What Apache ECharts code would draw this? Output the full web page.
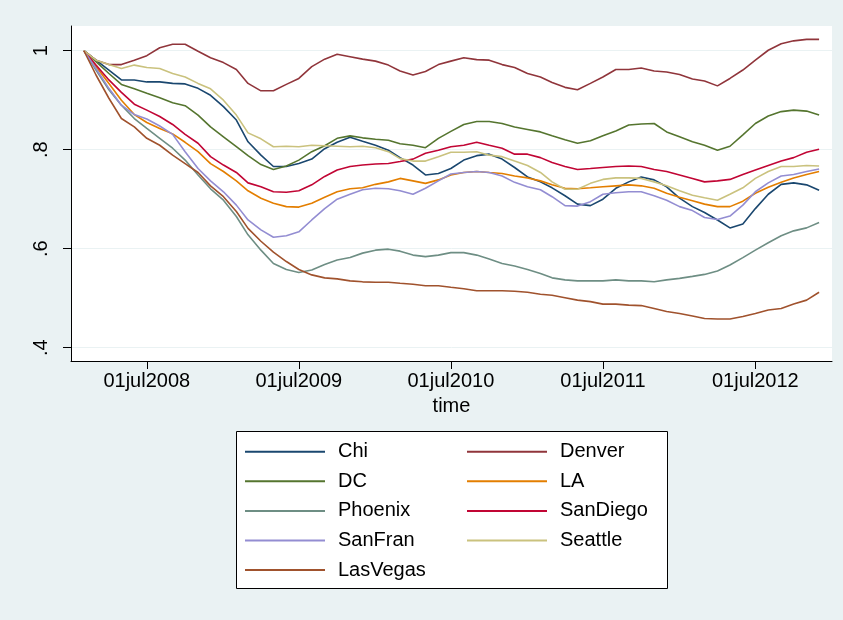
<!DOCTYPE html>
<html>
<head>
<meta charset="utf-8">
<script src="https://cdn.jsdelivr.net/npm/echarts@6/dist/echarts.min.js"></script>
<style>
html,body{margin:0;padding:0;background:#EAF2F3;}
#c{width:843px;height:620px;}
</style>
</head>
<body>
<div id="c"></div>
<script>
// Monthly dates (first of month)
const months = [
 '2008-02-01','2008-03-01','2008-04-01','2008-05-01','2008-06-01','2008-07-01','2008-08-01','2008-09-01','2008-10-01','2008-11-01','2008-12-01',
 '2009-01-01','2009-02-01','2009-03-01','2009-04-01','2009-05-01','2009-06-01','2009-07-01','2009-08-01','2009-09-01','2009-10-01','2009-11-01','2009-12-01',
 '2010-01-01','2010-02-01','2010-03-01','2010-04-01','2010-05-01','2010-06-01','2010-07-01','2010-08-01','2010-09-01','2010-10-01','2010-11-01','2010-12-01',
 '2011-01-01','2011-02-01','2011-03-01','2011-04-01','2011-05-01','2011-06-01','2011-07-01','2011-08-01','2011-09-01','2011-10-01','2011-11-01','2011-12-01',
 '2012-01-01','2012-02-01','2012-03-01','2012-04-01','2012-05-01','2012-06-01','2012-07-01','2012-08-01','2012-09-01','2012-10-01','2012-11-01','2012-12-01'
];

const Chi = [1.0,0.981,0.961,0.941,0.941,0.937,0.937,0.934,0.933,0.924,
 0.910,0.887,0.860,0.816,0.789,0.766,0.766,0.772,0.781,0.802,
 0.815,0.825,0.817,0.809,0.799,0.784,0.769,0.749,0.752,0.762,
 0.779,0.788,0.791,0.781,0.764,0.745,0.735,0.723,0.707,0.690,
 0.687,0.700,0.722,0.735,0.745,0.739,0.725,0.702,0.685,0.673,
 0.658,0.642,0.650,0.681,0.710,0.730,0.733,0.729,0.718];
const Denver = [1.0,0.981,0.972,0.972,0.981,0.990,1.006,1.013,1.013,0.999,
 0.986,0.976,0.962,0.934,0.919,0.919,0.932,0.944,0.968,0.983,
 0.993,0.988,0.983,0.979,0.971,0.959,0.951,0.958,0.972,0.979,
 0.986,0.982,0.981,0.972,0.966,0.954,0.947,0.936,0.926,0.921,
 0.934,0.947,0.962,0.962,0.965,0.959,0.957,0.952,0.943,0.939,
 0.929,0.944,0.961,0.981,1.001,1.014,1.020,1.023,1.023];
const DC = [1.0,0.978,0.954,0.932,0.923,0.914,0.905,0.895,0.889,0.870,
 0.846,0.826,0.806,0.788,0.770,0.760,0.767,0.779,0.796,0.808,
 0.823,0.828,0.824,0.821,0.819,0.812,0.809,0.804,0.823,0.837,
 0.851,0.857,0.857,0.853,0.846,0.841,0.836,0.828,0.820,0.813,
 0.818,0.828,0.838,0.850,0.852,0.853,0.836,0.826,0.816,0.809,
 0.799,0.807,0.830,0.853,0.868,0.877,0.880,0.878,0.870];
const LA = [1.0,0.968,0.934,0.900,0.871,0.855,0.843,0.832,0.815,0.796,
 0.772,0.756,0.737,0.717,0.702,0.692,0.685,0.684,0.692,0.704,
 0.715,0.721,0.723,0.730,0.735,0.742,0.737,0.732,0.739,0.749,
 0.754,0.756,0.754,0.752,0.747,0.743,0.737,0.729,0.722,0.721,
 0.723,0.725,0.727,0.729,0.727,0.722,0.712,0.704,0.697,0.690,
 0.685,0.685,0.696,0.712,0.724,0.734,0.743,0.750,0.756];
const Phoenix = [1.0,0.961,0.921,0.890,0.863,0.843,0.823,0.803,0.779,0.749,
 0.721,0.698,0.665,0.628,0.597,0.570,0.558,0.552,0.557,0.568,
 0.577,0.582,0.591,0.597,0.599,0.595,0.587,0.584,0.587,0.592,
 0.592,0.587,0.579,0.570,0.565,0.558,0.550,0.541,0.537,0.535,
 0.535,0.535,0.537,0.535,0.535,0.533,0.537,0.540,0.544,0.548,
 0.555,0.567,0.582,0.597,0.612,0.626,0.636,0.642,0.653];
const SanDiego = [1.0,0.971,0.941,0.916,0.892,0.880,0.867,0.851,0.831,0.813,
 0.786,0.769,0.754,0.733,0.725,0.715,0.714,0.717,0.729,0.746,
 0.759,0.766,0.769,0.771,0.772,0.776,0.781,0.793,0.799,0.806,
 0.809,0.815,0.809,0.803,0.791,0.791,0.784,0.774,0.766,0.760,
 0.762,0.764,0.766,0.767,0.766,0.760,0.756,0.749,0.742,0.735,
 0.737,0.740,0.750,0.759,0.768,0.777,0.784,0.795,0.801];
const SanFran = [1.0,0.964,0.924,0.890,0.871,0.862,0.848,0.831,0.796,0.762,
 0.737,0.715,0.688,0.658,0.638,0.623,0.626,0.634,0.658,0.681,
 0.700,0.710,0.719,0.722,0.721,0.717,0.710,0.722,0.737,0.751,
 0.754,0.756,0.754,0.747,0.734,0.725,0.719,0.705,0.687,0.686,
 0.695,0.710,0.713,0.715,0.715,0.707,0.698,0.685,0.677,0.663,
 0.659,0.666,0.688,0.715,0.733,0.747,0.750,0.756,0.761];
const Seattle = [1.0,0.981,0.972,0.964,0.971,0.966,0.964,0.954,0.947,0.934,
 0.923,0.900,0.870,0.834,0.822,0.806,0.807,0.806,0.809,0.808,
 0.807,0.806,0.807,0.804,0.796,0.782,0.777,0.777,0.786,0.795,
 0.795,0.796,0.789,0.786,0.777,0.768,0.754,0.735,0.720,0.720,
 0.732,0.740,0.743,0.743,0.742,0.735,0.727,0.717,0.708,0.703,
 0.698,0.710,0.723,0.742,0.756,0.766,0.766,0.768,0.767];
const LasVegas = [1.0,0.951,0.904,0.863,0.846,0.823,0.809,0.789,0.772,0.754,
 0.727,0.705,0.675,0.641,0.615,0.593,0.574,0.558,0.547,0.541,
 0.539,0.535,0.533,0.532,0.532,0.530,0.528,0.525,0.525,0.522,
 0.519,0.515,0.515,0.515,0.514,0.512,0.508,0.506,0.501,0.496,
 0.493,0.488,0.488,0.486,0.485,0.479,0.473,0.469,0.464,0.459,
 0.458,0.458,0.463,0.469,0.476,0.479,0.488,0.496,0.512];

const seriesNames = ['Chi','Denver','DC','LA','Phoenix','SanDiego','SanFran','Seattle','LasVegas'];
const seriesValues = [Chi, Denver, DC, LA, Phoenix, SanDiego, SanFran, Seattle, LasVegas];
const seriesColors = ['#1a476f','#90353b','#55752f','#e37e00','#6e8e84','#c10534','#938dd2','#cac27e','#a0522d'];

const xTickDates = ['2008-07-01','2009-07-01','2010-07-01','2011-07-01','2012-07-01'];
const xTickLabels = ['01jul2008','01jul2009','01jul2010','01jul2011','01jul2012'];
const yTicks = [0.4, 0.6, 0.8, 1];
const yTickLabels = ['.4', '.6', '.8', '1'];

function parseDate(s) {
  const p = s.split('-').map(Number);
  return new Date(p[0], p[1] - 1, p[2]).getTime();
}
const monthTs = months.map(parseDate);
const xTickVals = xTickDates.map(parseDate);

const FONT = '"Liberation Sans", Arial, Helvetica, sans-serif';

const legendCommon = {
  orient: 'vertical', top: 441.7, padding: 0,
  icon: 'rect', itemWidth: 80, itemHeight: 2, itemGap: 9.6,
  textStyle: {fontSize: 20, lineHeight: 20, color: '#000', fontFamily: FONT, padding: [0, 0, 0, 8]}
};

const chart = echarts.init(document.getElementById('c'), null, {renderer: 'canvas'});
const option = {
  backgroundColor: '#EAF2F3',
  animation: false,
  color: seriesColors,
  textStyle: {fontFamily: FONT},
  grid: {left: 71, right: 11, top: 26, bottom: 259, show: true, backgroundColor: '#ffffff', borderWidth: 0},
  xAxis: {
    type: 'value',
    min: parseDate('2008-01-01'),
    max: parseDate('2013-01-01'),
    name: 'time', nameLocation: 'middle', nameGap: 35,
    nameTextStyle: {fontSize: 20, color: '#000', fontFamily: FONT},
    axisLine: {show: true, onZero: false, lineStyle: {color: '#000', width: 1}},
    axisTick: {show: true, customValues: xTickVals, length: 8, lineStyle: {color: '#000'}},
    axisLabel: {
      show: true, customValues: xTickVals, margin: 10, fontSize: 20, color: '#000', fontFamily: FONT,
      formatter: function (v) { const i = xTickVals.indexOf(v); return i >= 0 ? xTickLabels[i] : ''; }
    },
    splitLine: {show: false}
  },
  yAxis: {
    type: 'value',
    min: 0.373, max: 1.05,
    axisLine: {show: true, onZero: false, lineStyle: {color: '#000', width: 1}},
    axisTick: {show: true, customValues: yTicks, length: 8, lineStyle: {color: '#000'}},
    axisLabel: {
      show: true, customValues: yTicks, rotate: 90, margin: 20, fontSize: 20, color: '#000', fontFamily: FONT,
      formatter: function (v) { const i = yTicks.indexOf(v); return i >= 0 ? yTickLabels[i] : ''; }
    },
    splitLine: {show: true, lineStyle: {color: '#EAF2F3', width: 1}}
  },
  graphic: [{
    type: 'rect', z: 0,
    shape: {x: 236.5, y: 431.5, width: 431, height: 157},
    style: {fill: '#ffffff', stroke: '#000000', lineWidth: 1}
  }],
  legend: [
    Object.assign({}, legendCommon, {data: ['Chi', 'DC', 'Phoenix', 'SanFran', 'LasVegas'], left: 245}),
    Object.assign({}, legendCommon, {data: ['Denver', 'LA', 'SanDiego', 'Seattle'], left: 467})
  ],
  series: seriesNames.map(function (name, k) {
    return {
      name: name,
      type: 'line',
      symbol: 'none',
      lineStyle: {width: 1.6, color: seriesColors[k]},
      itemStyle: {color: seriesColors[k]},
      data: seriesValues[k].map(function (v, i) { return [monthTs[i], v]; })
    };
  })
};
chart.setOption(option);
</script>
</body>
</html>
